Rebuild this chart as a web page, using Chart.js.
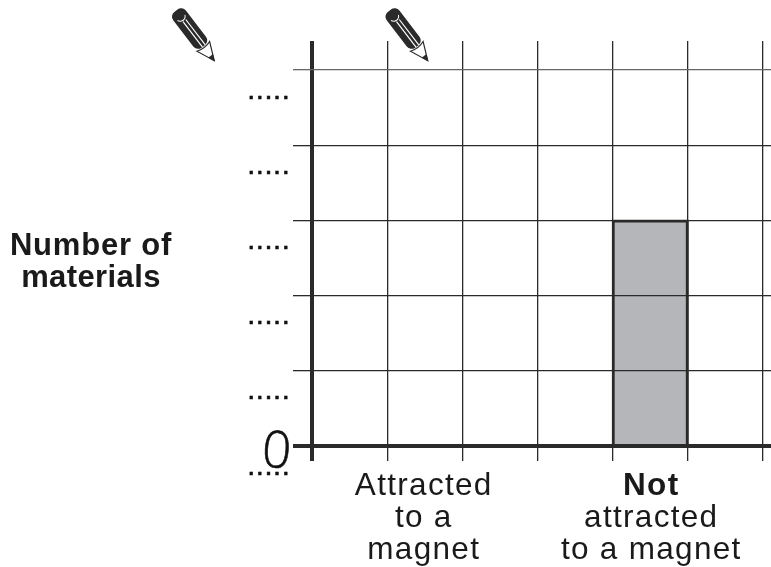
<!DOCTYPE html>
<html><head><meta charset="utf-8">
<style>html,body{margin:0;padding:0;background:#fff}canvas{display:block}</style>
<script src="https://cdn.jsdelivr.net/npm/chart.js@4"></script>
</head><body><canvas id="c" width="771" height="567"></canvas>
<script>
const categories = ['', 'Attracted to a magnet', '', '', 'Not attracted to a magnet', ''];
const values = [null, null, null, null, 3, null];
const yTicks = [0, 1, 2, 3, 4, 5];
const yMax = 5.386;
const yTitleLines = ['Number of', 'materials'];
const labelA = ['Attracted', 'to a', 'magnet'];
const labelB = ['Not', 'attracted', 'to a magnet'];
const dotsLabel = '.....';
const zeroLabel = '0';
const INK = '#2b2a2b';

function pencil(ctx, x, y) {
  ctx.save();
  ctx.translate(x, y);
  ctx.rotate(52.5 * Math.PI / 180);
  ctx.fillStyle = INK;
  ctx.beginPath();
  ctx.roundRect(-1, -8, 45, 16, 6);
  ctx.fill();
  ctx.strokeStyle = '#fff';
  ctx.lineWidth = 1;
  ctx.beginPath(); ctx.arc(6, 0, 5, -1.2, 1.2); ctx.stroke();
  ctx.lineWidth = 1.2;
  ctx.beginPath(); ctx.moveTo(12, -2.5); ctx.lineTo(44, -2.5); ctx.stroke();
  ctx.beginPath(); ctx.moveTo(12, 1); ctx.lineTo(44, 1); ctx.stroke();
  ctx.fillStyle = '#fff';
  ctx.strokeStyle = INK;
  ctx.lineWidth = 1.2;
  ctx.beginPath(); ctx.moveTo(44, -8); ctx.lineTo(62, 0); ctx.lineTo(44, 8); ctx.quadraticCurveTo(47, 0, 44, -8); ctx.closePath();
  ctx.fill(); ctx.stroke();
  ctx.fillStyle = INK;
  ctx.beginPath(); ctx.moveTo(56, -3); ctx.lineTo(63, 0); ctx.lineTo(56, 3); ctx.closePath(); ctx.fill();
  ctx.restore();
}

const align = (p, w) => Math.round(p - w / 2) + w / 2;

const decor = {
  id: 'decor',
  afterDraw(chart) {
    const ctx = chart.ctx, x = chart.scales.x, y = chart.scales.y;
    ctx.save();
    // horizontal rules carry on past the last column to the page edge
    yTicks.forEach(v => {
      const w = v === 0 ? 4 : 1.3;
      const p = align(y.getPixelForValue(v), w);
      ctx.strokeStyle = v === 5 ? '#666' : INK;
      ctx.lineWidth = w;
      ctx.beginPath(); ctx.moveTo(x.right, p); ctx.lineTo(771, p); ctx.stroke();
    });
    // dotted answer lines under each tick
    ctx.fillStyle = '#111';
    ctx.strokeStyle = '#111';
    ctx.lineWidth = 0.5;
    ctx.textAlign = 'left';
    ctx.textBaseline = 'alphabetic';
    ctx.font = 'bold 20px "Liberation Sans"';
    ctx.letterSpacing = '3.05px';
    yTicks.forEach(v => {
      ctx.fillText(dotsLabel, 248.5, y.getPixelForValue(v) + 28.5);
      ctx.strokeText(dotsLabel, 248.5, y.getPixelForValue(v) + 28.5);
    });
    ctx.letterSpacing = '0px';
    // handwritten zero
    ctx.save();
    ctx.translate(276.5, y.getPixelForValue(0) + 7);
    ctx.rotate(4 * Math.PI / 180);
    ctx.textAlign = 'center';
    ctx.textBaseline = 'middle';
    ctx.font = '300 51px "Open Sans"';
    ctx.fillStyle = '#111';
    ctx.strokeStyle = '#111';
    ctx.lineWidth = 0.6;
    ctx.fillText(zeroLabel, 0, 0);
    ctx.strokeText(zeroLabel, 0, 0);
    ctx.restore();
    // axis title
    ctx.fillStyle = '#1a1a1a';
    ctx.textAlign = 'center';
    ctx.font = 'bold 31px "Liberation Sans"';
    ctx.letterSpacing = '0.8px';
    ctx.fillText(yTitleLines[0], 91, 255);
    ctx.letterSpacing = '0.4px';
    ctx.fillText(yTitleLines[1], 91, 287);
    // category labels
    const px = i => x.getPixelForValue(i);
    const lineYs = [495, 527, 559];
    ctx.letterSpacing = '1.3px';
    ctx.font = '31.5px "Liberation Sans"';
    labelA.forEach((t, i) => ctx.fillText(t, px(1) - 1, lineYs[i]));
    labelB.forEach((t, i) => {
      ctx.font = i === 0 ? 'bold 31.5px "Liberation Sans"' : '31.5px "Liberation Sans"';
      ctx.fillText(t, px(4) + 1, lineYs[i]);
    });
    ctx.restore();
    pencil(ctx, 176.5, 11.5);
    pencil(ctx, 390, 11.5);
  }
};

new Chart(document.getElementById('c'), {
  type: 'bar',
  data: {
    labels: categories,
    datasets: [{
      data: values,
      backgroundColor: '#b5b6b9',
      borderColor: INK,
      borderWidth: 3,
      inflateAmount: 1,
      barPercentage: 1,
      categoryPercentage: 1
    }]
  },
  options: {
    responsive: false,
    animation: false,
    devicePixelRatio: 1,
    layout: { padding: { left: 293, top: 41, right: 8, bottom: 106 } },
    plugins: { legend: { display: false }, tooltip: { enabled: false } },
    scales: {
      x: {
        ticks: { display: false },
        border: { display: false },
        grid: {
          z: 1,
          tickLength: 15,
          color: INK,
          lineWidth: c => c.index === 0 ? 4 : 1.3
        }
      },
      y: {
        min: 0,
        max: yMax,
        afterBuildTicks: s => { s.ticks = yTicks.map(v => ({ value: v })); },
        ticks: { display: false, stepSize: 1 },
        border: { display: false },
        grid: {
          z: 1,
          tickLength: 19,
          color: c => c.tick && c.tick.value === 5 ? '#666' : INK,
          lineWidth: c => c.tick && c.tick.value === 0 ? 4 : 1.3
        }
      }
    }
  },
  plugins: [decor]
});
</script></body></html>
